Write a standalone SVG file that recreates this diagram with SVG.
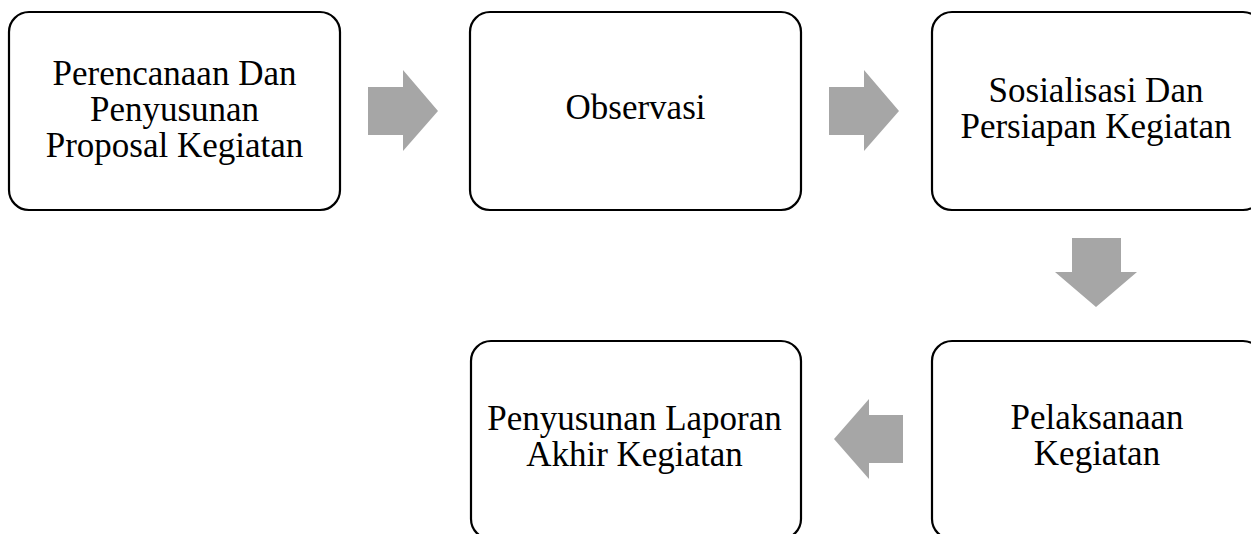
<svg xmlns="http://www.w3.org/2000/svg" width="1251" height="534" viewBox="0 0 1251 534">
<style>
.box{fill:#ffffff;stroke:#000000;stroke-width:2.2}
.lbl{font-family:"Liberation Serif","Times New Roman",serif;font-size:35px;fill:#000000;text-anchor:middle}
.arr{fill:#a6a6a6;stroke:none}
</style>
<rect width="1251" height="534" fill="#ffffff"/>
<g id="node1">
<rect class="box" x="9" y="12" width="331" height="198" rx="20" ry="20"/>
<text class="lbl" x="174.5" y="85">Perencanaan Dan</text>
<text class="lbl" x="174.5" y="121">Penyusunan</text>
<text class="lbl" x="174.5" y="157">Proposal Kegiatan</text>
</g>
<g id="node2">
<rect class="box" x="470" y="12" width="331" height="198" rx="20" ry="20"/>
<text class="lbl" x="635.5" y="119">Observasi</text>
</g>
<g id="node3">
<rect class="box" x="932" y="12" width="331" height="198" rx="20" ry="20"/>
<text class="lbl" x="1096" y="102">Sosialisasi Dan</text>
<text class="lbl" x="1096" y="138">Persiapan Kegiatan</text>
</g>
<g id="node4">
<rect class="box" x="932" y="341" width="331" height="198" rx="20" ry="20"/>
<text class="lbl" x="1097" y="429">Pelaksanaan</text>
<text class="lbl" x="1097" y="465">Kegiatan</text>
</g>
<g id="node5">
<rect class="box" x="471" y="341" width="330" height="198" rx="20" ry="20"/>
<text class="lbl" x="634.5" y="430">Penyusunan Laporan</text>
<text class="lbl" x="634.5" y="466">Akhir Kegiatan</text>
</g>
<g id="connectors">
<polygon class="arr" points="368,87 403,87 403,70 438,111 403,151 403,135 368,135"/>
<polygon class="arr" points="829,87 864,87 864,70 899,111 864,151 864,135 829,135"/>
<polygon class="arr" points="1072,238 1121,238 1121,272 1137,272 1096,307 1055,272 1072,272"/>
<polygon class="arr" points="903,415 869,415 869,399 834,439 869,479 869,463 903,463"/>
</g>
</svg>
